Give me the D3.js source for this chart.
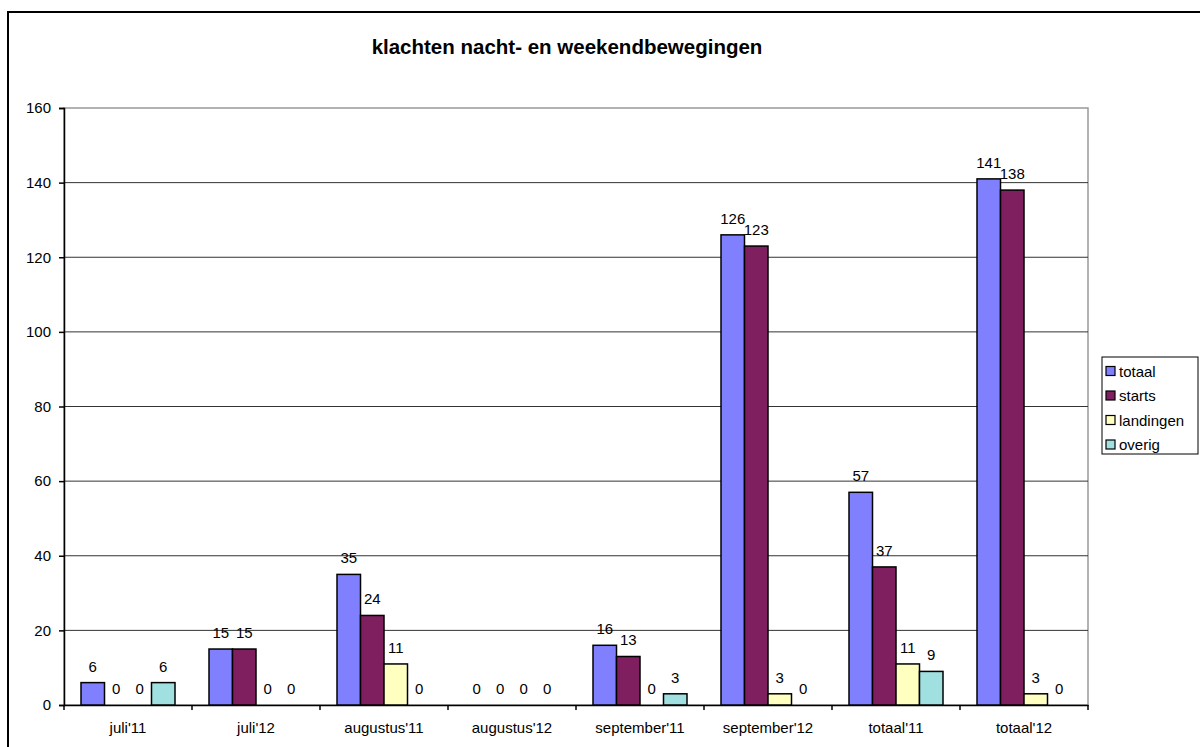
<!DOCTYPE html>
<html lang="nl">
<head>
<meta charset="utf-8">
<title>klachten nacht- en weekendbewegingen</title>
<script src="https://cdn.jsdelivr.net/npm/d3@7"></script>
<style>
  body { margin: 0; background: #fff; }
  svg text { font-family: Arial, "Liberation Sans", sans-serif; }
</style>
</head>
<body>
<svg id="chart" width="1200" height="747"></svg>
<script>
// data
var categories = ["juli'11", "juli'12", "augustus'11", "augustus'12", "september'11", "september'12", "totaal'11", "totaal'12"];
var seriesNames = ["totaal", "starts", "landingen", "overig"];
var totaal    = [6, 15, 35, 0, 16, 126, 57, 141];
var starts    = [0, 15, 24, 0, 13, 123, 37, 138];
var landingen = [0, 0, 11, 0, 0, 3, 11, 3];
var overig    = [6, 0, 0, 0, 3, 0, 9, 0];
var yTicks = [0, 20, 40, 60, 80, 100, 120, 140, 160];
var colors = ["#8080ff", "#7f1f5f", "#ffffc0", "#a0e0e0"];

var seriesValues = [totaal, starts, landingen, overig];

function drawChart() {
  var svg = d3.select("#chart");

  /** outer chart border (only left and top visible) */
  svg.append("rect")
    .attr("x", 8).attr("y", 12)
    .attr("width", 1220).attr("height", 760)
    .attr("fill", "none").attr("stroke", "#000").attr("stroke-width", 2);

  svg.append("text")
    .attr("x", 567).attr("y", 54)
    .attr("text-anchor", "middle")
    .attr("font-size", "20.5px").attr("font-weight", "bold")
    .text("klachten nacht- en weekendbewegingen");

  var pLeft = 64, pRight = 1088, pTop = 108, pBottom = 705;

  var x0 = d3.scaleBand().domain(categories).range([pLeft, pRight]);
  var x1 = d3.scaleBand().domain(seriesNames).range([17, x0.bandwidth() - 17]);
  var y = d3.scaleLinear().domain([0, 160]).range([pBottom, pTop]);

  /** plot area border */
  svg.append("rect")
    .attr("x", pLeft).attr("y", pTop)
    .attr("width", pRight - pLeft).attr("height", pBottom - pTop)
    .attr("fill", "none").attr("stroke", "#999").attr("stroke-width", 1.5);

  /** gridlines */
  svg.append("g").selectAll("line")
    .data(yTicks.filter(function(d) { return d > 0 && d < 160; }))
    .enter().append("line")
    .attr("x1", pLeft).attr("x2", pRight)
    .attr("y1", function(d) { return y(d); }).attr("y2", function(d) { return y(d); })
    .attr("stroke", "#333").attr("stroke-width", 1);

  /** y axis */
  var yAxis = svg.append("g")
    .attr("transform", "translate(" + pLeft + ",0)")
    .call(d3.axisLeft(y).tickValues(yTicks).tickSize(5).tickPadding(8));
  yAxis.select(".domain").attr("stroke", "#000").attr("stroke-width", 1.5);
  yAxis.selectAll(".tick line").attr("stroke", "#000").attr("stroke-width", 1.5);
  yAxis.selectAll("text").attr("font-size", "15px").attr("fill", "#000")
    .style("font-family", "Arial, 'Liberation Sans', sans-serif");

  /** x axis */
  var xAxis = svg.append("g")
    .attr("transform", "translate(0," + pBottom + ")")
    .call(d3.axisBottom(x0).tickSize(0).tickPadding(17));
  xAxis.select(".domain").attr("stroke", "#000").attr("stroke-width", 1.5);
  xAxis.selectAll("text").attr("font-size", "15px").attr("fill", "#000")
    .style("font-family", "Arial, 'Liberation Sans', sans-serif");
  xAxis.selectAll(".sep")
    .data(categories.concat(["end"]))
    .enter().append("line")
    .attr("x1", function(d, i) { return pLeft + i * x0.bandwidth(); })
    .attr("x2", function(d, i) { return pLeft + i * x0.bandwidth(); })
    .attr("y1", 0).attr("y2", 5)
    .attr("stroke", "#000").attr("stroke-width", 1.5);

  /** bars */
  var groups = svg.append("g").selectAll("g")
    .data(categories)
    .enter().append("g")
    .attr("transform", function(d) { return "translate(" + x0(d) + ",0)"; });

  function rowOf(d, ci) {
    return seriesNames.map(function(s, si) { return { s: s, si: si, v: seriesValues[si][ci] }; });
  }

  groups.selectAll("rect")
    .data(function(d, ci) { return rowOf(d, ci).filter(function(e) { return e.v > 0; }); })
    .enter().append("rect")
    .attr("x", function(d) { return x1(d.s); })
    .attr("y", function(d) { return y(d.v); })
    .attr("width", x1.bandwidth())
    .attr("height", function(d) { return pBottom - y(d.v); })
    .attr("fill", function(d) { return colors[d.si]; })
    .attr("stroke", "#000").attr("stroke-width", 1.5);

  groups.selectAll("text")
    .data(rowOf)
    .enter().append("text")
    .attr("x", function(d) { return x1(d.s) + x1.bandwidth() / 2; })
    .attr("y", function(d) { return y(d.v) - 11; })
    .attr("text-anchor", "middle")
    .attr("font-size", "15px")
    .text(function(d) { return d.v; });

  /** legend */
  var legend = svg.append("g");
  legend.append("rect")
    .attr("x", 1102).attr("y", 357).attr("width", 96).attr("height", 97)
    .attr("fill", "#fff").attr("stroke", "#000").attr("stroke-width", 1);
  var items = legend.selectAll("g.item")
    .data(seriesNames)
    .enter().append("g")
    .attr("transform", function(d, i) { return "translate(1106," + (371 + i * 24.5) + ")"; });
  items.append("rect")
    .attr("x", 0).attr("y", -4.5).attr("width", 9).attr("height", 9)
    .attr("fill", function(d, i) { return colors[i]; })
    .attr("stroke", "#000").attr("stroke-width", 1.2);
  items.append("text")
    .attr("x", 13).attr("y", 5.5)
    .attr("font-size", "15px")
    .text(function(d) { return d; });
}

drawChart();
</script>
</body>
</html>
